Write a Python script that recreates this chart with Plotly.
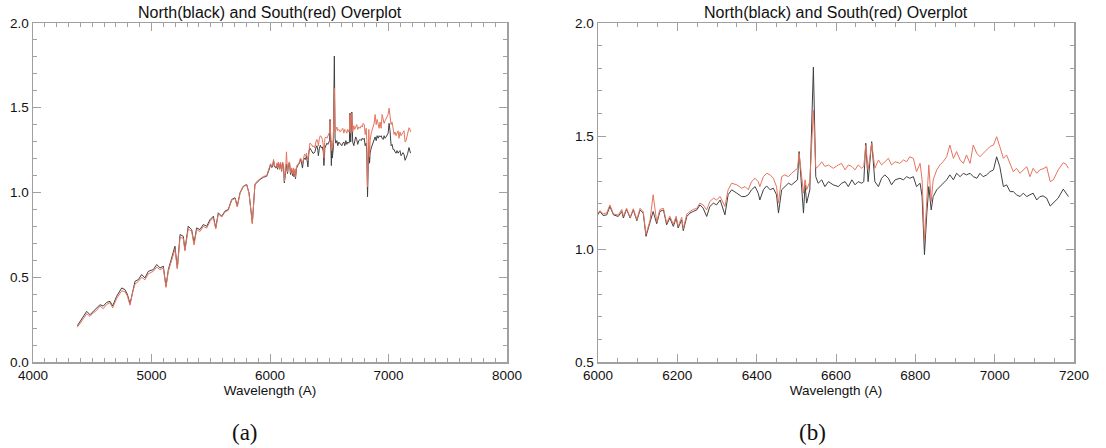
import plotly.graph_objects as go

# ---- data (wavelength in Angstrom, normalized flux) ----
wavelength = [
    4374, 4397, 4425, 4453, 4481, 4509, 4538, 4565, 4593, 4622, 4650, 4672, 4706,
    4749, 4776, 4796, 4819, 4840, 4861, 4889, 4917, 4945, 4973, 5015, 5044, 5072,
    5100, 5122, 5142, 5170, 5198, 5218, 5241, 5268, 5282, 5310, 5339, 5359, 5381,
    5409, 5437, 5466, 5494, 5522, 5542, 5564, 5592, 5620, 5648, 5677, 5705, 5724,
    5747, 5775, 5803, 5823, 5851, 5873, 5895, 5916, 5945, 5972, 5990,
    6005, 6013, 6022, 6030, 6039, 6051, 6060, 6064, 6072, 6081, 6089, 6098, 6106,
    6114, 6121, 6131, 6139, 6148, 6156, 6165, 6173, 6181, 6190, 6197, 6202, 6211,
    6215, 6224, 6232, 6240, 6249, 6257, 6265, 6274, 6282, 6291, 6299, 6308, 6320,
    6328, 6337, 6350, 6362, 6371, 6379, 6387, 6396, 6404, 6408, 6417, 6425, 6434,
    6442, 6450, 6455, 6463, 6471, 6480, 6488, 6497, 6503, 6507, 6513, 6518, 6522,
    6526, 6534, 6543, 6549, 6555, 6564, 6572, 6581, 6593, 6606, 6614, 6623, 6631,
    6640, 6648, 6656, 6665, 6670, 6675, 6681, 6690, 6698, 6707, 6715, 6723, 6732,
    6740, 6749, 6761, 6770, 6778, 6786, 6795, 6803, 6812, 6817, 6823, 6829, 6834,
    6840, 6845, 6854, 6862, 6870, 6879, 6887, 6896, 6904, 6913, 6921, 6929, 6938,
    6946, 6955, 6963, 6971, 6980, 6988, 6997, 7005, 7013, 7022, 7030, 7039, 7047,
    7055, 7064, 7072, 7081, 7089, 7097, 7106, 7114, 7122, 7131, 7140, 7148, 7160,
    7173, 7180, 7186,
]

north = [
    0.214, 0.240, 0.269, 0.299, 0.279, 0.299, 0.319, 0.338, 0.330, 0.352, 0.358, 0.330, 0.388,
    0.437, 0.427, 0.400, 0.344, 0.420, 0.476, 0.486, 0.516, 0.496, 0.535, 0.545, 0.575, 0.555,
    0.565, 0.447, 0.545, 0.614, 0.683, 0.555, 0.752, 0.742, 0.664, 0.801, 0.781, 0.703, 0.791,
    0.781, 0.811, 0.801, 0.840, 0.860, 0.791, 0.880, 0.860, 0.890, 0.900, 0.959, 0.969, 0.920,
    0.998, 1.037, 1.047, 0.998, 0.821, 1.047, 1.065, 1.077, 1.090, 1.096, 1.130,
    1.166, 1.148, 1.151, 1.188, 1.151, 1.144, 1.166, 1.137, 1.176, 1.137, 1.173, 1.125, 1.173,
    1.159, 1.056, 1.115, 1.166, 1.112, 1.166, 1.173, 1.107, 1.137, 1.100, 1.137, 1.093, 1.129,
    1.081, 1.144, 1.159, 1.166, 1.173, 1.195, 1.181, 1.144, 1.188, 1.203, 1.195, 1.217, 1.151,
    1.240, 1.262, 1.247, 1.232, 1.232, 1.240, 1.262, 1.276, 1.247, 1.217, 1.262, 1.279, 1.262,
    1.269, 1.240, 1.159, 1.262, 1.276, 1.291, 1.284, 1.298, 1.306, 1.431, 1.291, 1.159, 1.284,
    1.203, 1.262, 1.805, 1.320, 1.291, 1.306, 1.276, 1.298, 1.284, 1.276, 1.291, 1.298, 1.276,
    1.306, 1.284, 1.298, 1.291, 1.298, 1.468, 1.298, 1.475, 1.298, 1.276, 1.313, 1.328, 1.313,
    1.284, 1.306, 1.313, 1.306, 1.320, 1.313, 1.320, 1.276, 1.291, 1.232, 0.975, 1.159, 1.276,
    1.173, 1.232, 1.262, 1.276, 1.291, 1.306, 1.328, 1.306, 1.335, 1.320, 1.335, 1.328, 1.335,
    1.320, 1.313, 1.335, 1.320, 1.328, 1.342, 1.350, 1.408, 1.364, 1.276, 1.284, 1.254, 1.254,
    1.240, 1.232, 1.247, 1.232, 1.240, 1.247, 1.217, 1.232, 1.235, 1.225, 1.190, 1.203, 1.225,
    1.265, 1.250, 1.232,
]

south = [
    0.205, 0.225, 0.255, 0.285, 0.270, 0.290, 0.305, 0.330, 0.315, 0.340, 0.350, 0.320, 0.375,
    0.420, 0.415, 0.390, 0.335, 0.410, 0.460, 0.475, 0.500, 0.485, 0.520, 0.535, 0.560, 0.545,
    0.555, 0.440, 0.535, 0.600, 0.665, 0.550, 0.735, 0.730, 0.655, 0.785, 0.770, 0.690, 0.780,
    0.770, 0.800, 0.790, 0.830, 0.850, 0.785, 0.875, 0.855, 0.885, 0.895, 0.955, 0.965, 0.915,
    0.995, 1.035, 1.045, 0.995, 0.815, 1.050, 1.070, 1.080, 1.095, 1.100, 1.135,
    1.170, 1.155, 1.160, 1.195, 1.155, 1.150, 1.175, 1.145, 1.180, 1.140, 1.178, 1.130, 1.180,
    1.165, 1.065, 1.125, 1.240, 1.120, 1.175, 1.180, 1.115, 1.145, 1.110, 1.145, 1.100, 1.140,
    1.090, 1.155, 1.166, 1.175, 1.180, 1.203, 1.195, 1.173, 1.210, 1.225, 1.217, 1.232, 1.188,
    1.262, 1.291, 1.284, 1.269, 1.276, 1.262, 1.298, 1.313, 1.298, 1.276, 1.320, 1.335, 1.328,
    1.313, 1.276, 1.203, 1.320, 1.328, 1.320, 1.335, 1.350, 1.357, 1.423, 1.320, 1.247, 1.306,
    1.262, 1.298, 1.614, 1.357, 1.365, 1.386, 1.365, 1.372, 1.357, 1.372, 1.379, 1.350, 1.372,
    1.365, 1.350, 1.372, 1.357, 1.365, 1.460, 1.350, 1.468, 1.357, 1.394, 1.372, 1.386, 1.401,
    1.372, 1.386, 1.379, 1.394, 1.386, 1.408, 1.401, 1.342, 1.379, 1.306, 1.034, 1.203, 1.372,
    1.210, 1.306, 1.350, 1.372, 1.386, 1.408, 1.460, 1.401, 1.431, 1.394, 1.379, 1.416, 1.379,
    1.460, 1.423, 1.408, 1.423, 1.438, 1.453, 1.460, 1.497, 1.453, 1.401, 1.416, 1.372, 1.342,
    1.357, 1.335, 1.350, 1.364, 1.320, 1.357, 1.335, 1.350, 1.355, 1.364, 1.298, 1.306, 1.350,
    1.382, 1.375, 1.357,
]

panel_title = "North(black) and South(red) Overplot"
x_title = "Wavelength (A)"
captions = ["(a)", "(b)"]

W, H = 1106, 448
BLACK = "#404040"
RED = "#e6745e"
AXC = "#a0a0a0"
FONT = "Liberation Sans, Arial, Helvetica, sans-serif"


def px_x(p):
    return p / W


def px_y(p):
    return 1 - p / H


fig = go.Figure()
for xa, ya in (("x", "y"), ("x2", "y2")):
    fig.add_trace(go.Scatter(x=wavelength, y=north, xaxis=xa, yaxis=ya, mode="lines",
                             line=dict(color=BLACK, width=1), name="North", showlegend=False,
                             hoverinfo="skip"))
    fig.add_trace(go.Scatter(x=wavelength, y=south, xaxis=xa, yaxis=ya, mode="lines",
                             line=dict(color=RED, width=1), name="South", showlegend=False,
                             hoverinfo="skip"))


def axis(rng, dtick, minor_dtick, domain, anchor, fmt=None, title=None):
    d = dict(range=rng, dtick=dtick, tick0=rng[0], domain=domain, anchor=anchor,
             automargin=False,
             showline=True, linecolor=AXC, linewidth=1.5, mirror="ticks",
             ticks="inside", ticklen=8, tickwidth=1, tickcolor=AXC,
             showgrid=False, zeroline=False,
             tickfont=dict(family=FONT, size=13.5, color="#111"),
             minor=dict(dtick=minor_dtick, tick0=rng[0], ticks="inside", ticklen=4,
                        tickwidth=1, tickcolor=AXC, showgrid=False))
    if fmt:
        d["tickformat"] = fmt
    if title:
        d["title"] = dict(text=title, font=dict(family=FONT, size=13.5, color="#111"), standoff=2)
    return d


top, bottom = 23, 362
ydom = [px_y(bottom), px_y(top)]
xdom1 = [px_x(33), px_x(507)]
xdom2 = [px_x(598), px_x(1074)]

fig.update_layout(
    width=W, height=H, margin=dict(l=0, r=0, t=0, b=0, autoexpand=False),
    paper_bgcolor="white", plot_bgcolor="white", showlegend=False,
    xaxis=axis([4000, 8000], 1000, 100, xdom1, "y", title=x_title),
    yaxis=axis([0, 2], 0.5, 0.1, ydom, "x", fmt=".1f"),
    xaxis2=axis([6000, 7200], 200, 50, xdom2, "y2", title=x_title),
    yaxis2=axis([0.5, 2], 0.5, 0.1, ydom, "x2", fmt=".1f"),
)

for cx in ((33 + 507) / 2, (598 + 1074) / 2):
    fig.add_annotation(text=panel_title, x=px_x(cx), y=px_y(12), xref="paper", yref="paper",
                       xanchor="center", yanchor="middle", showarrow=False,
                       font=dict(family=FONT, size=16, color="#111"))

for cap, cx in zip(captions, (245, 812)):
    fig.add_annotation(text=cap, x=px_x(cx), y=px_y(432), xref="paper", yref="paper",
                       xanchor="center", yanchor="middle", showarrow=False,
                       font=dict(family="Liberation Serif, DejaVu Serif, serif", size=23, color="#111"))

# remove the browser's default 8px body margin so the figure fills the window exactly
fig.write_html("out.html",
               config={"displayModeBar": False, "staticPlot": True},
               post_script="document.body.style.margin='0px';document.body.style.overflow='hidden';")
